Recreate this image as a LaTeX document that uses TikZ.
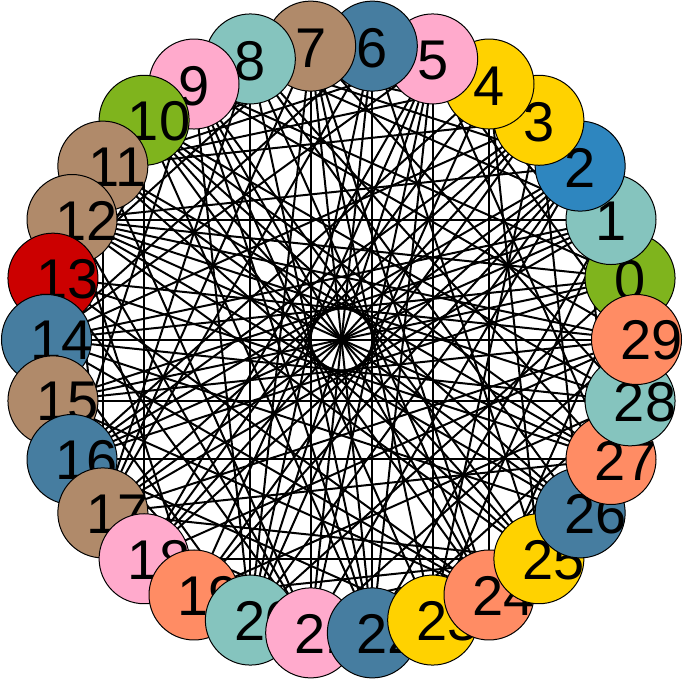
\documentclass[tikz,border=0pt]{standalone}
\usepackage{fontspec}
\setmainfont{Liberation Sans}
\usetikzlibrary{backgrounds}
\definecolor{cgreen}{HTML}{7FB41D}
\definecolor{cteal}{HTML}{85C4BE}
\definecolor{cblue}{HTML}{2E86BF}
\definecolor{cyellow}{HTML}{FFD200}
\definecolor{cpink}{HTML}{FFAACC}
\definecolor{csteel}{HTML}{467DA0}
\definecolor{cbrown}{HTML}{B08A6A}
\definecolor{cred}{HTML}{CC0000}
\definecolor{csalmon}{HTML}{FF8C64}
\tikzset{
  vert/.style={circle, draw=black, line width=1pt, minimum size=90pt, inner sep=0pt},
  lab/.style={inner sep=0pt, font=\fontsize{56}{56}\selectfont, text=black},
  edge/.style={draw=black, line width=2pt}
}
\begin{document}
\begin{tikzpicture}[x=1pt,y=-1pt]
\useasboundingbox (0,0) rectangle (683,681);
\foreach \k/\c in {0/cgreen,1/cteal,2/cblue,3/cyellow,4/cyellow,5/cpink,6/csteel,7/cbrown,8/cteal,9/cpink,
  10/cgreen,11/cbrown,12/cbrown,13/cred,14/csteel,15/cbrown,16/csteel,17/cbrown,18/cpink,19/csalmon,
  20/cteal,21/cpink,22/csteel,23/cyellow,24/csalmon,25/cyellow,26/csteel,27/csalmon,28/cteal,29/csalmon}{
  \pgfmathsetmacro\ang{12*(\k+1)}
  \node[vert, fill=\c] (n\k) at ({341.5+295*cos(\ang)},{339.5-295*sin(\ang)}) {};
  \ifnum\k<10
    \node[lab] (l\k) at ([yshift=-2pt]n\k.center) {\k};
  \else
    \node[lab] (l\k) at ([xshift=15pt,yshift=-1pt]n\k.center) {\k};
  \fi
}
\begin{pgfonlayer}{background}
\foreach \k in {0,1,2,3,5,6,7,9,10,11,12,14}{
  \pgfmathtruncatemacro\j{\k+15}
  \draw[edge] (n\k.center) -- (n\j.center);
}
\foreach \k in {0,...,29}{
  \pgfmathtruncatemacro\j{mod(\k+14,30)}
  \draw[edge] (n\k.center) -- (n\j.center);
}
\foreach \a/\b in {0/5,0/9,0/12,1/5,1/8,1/12,1/14,2/8,2/12,2/5,3/11,3/14,3/8,3/16,
  4/11,4/16,4/8,5/14,5/11,5/18,6/9,6/14,6/17,6/11,7/13,7/17,7/20,8/12,8/17,8/20,
  9/16,9/20,9/14,9/22,10/13,10/18,10/22,11/17,11/21,11/15,12/21,12/17,12/25,12/19,
  13/24,13/17,13/21,14/20,14/24,14/26,15/28,15/20,15/24,16/23,16/27,16/19,
  17/25,17/29,17/22,17/27,18/25,18/22,18/29,19/25,19/28,19/2,20/25,20/0,20/2,
  21/25,21/29,21/2,22/28,22/1,22/25,22/5,23/28,23/5,23/1,23/3,24/4,24/0,24/7,
  25/29,25/4,25/6,26/3,26/29,26/8,27/2,27/5,27/8,27/10,28/2,28/7,28/10,29/5,29/9,29/12}{
  \draw[edge] (n\a.center) -- (n\b.center);
}
\end{pgfonlayer}
\end{tikzpicture}
\end{document}
